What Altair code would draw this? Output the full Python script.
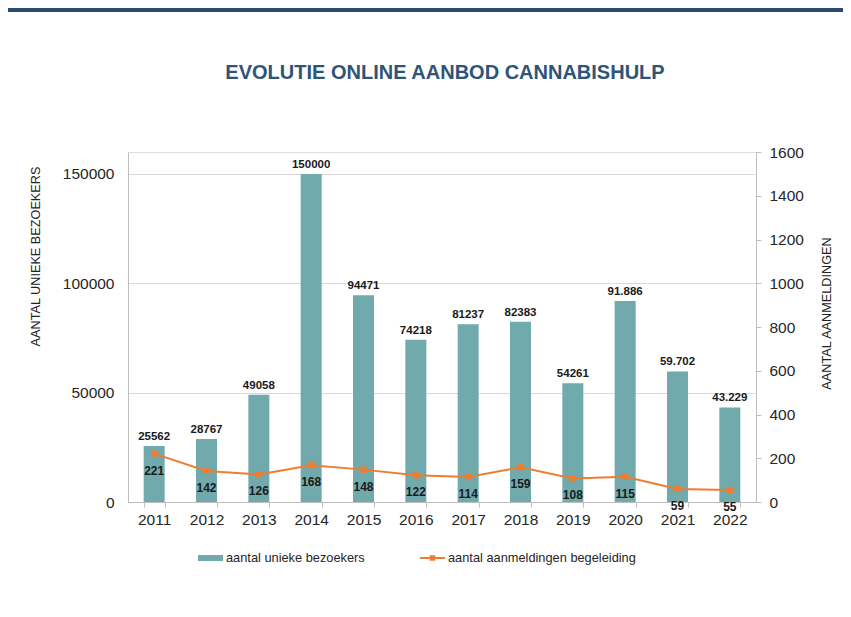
import altair as alt
import pandas as pd

years = ["2011", "2012", "2013", "2014", "2015", "2016", "2017", "2018", "2019", "2020", "2021", "2022"]
visitors = [25562, 28767, 49058, 150000, 94471, 74218, 81237, 82383, 54261, 91886, 59702, 43229]
visitor_labels = ["25562", "28767", "49058", "150000", "94471", "74218", "81237", "82383", "54261",
                  "91.886", "59.702", "43.229"]
registrations = [221, 142, 126, 168, 148, 122, 114, 159, 108, 115, 59, 55]

title_text = "EVOLUTIE ONLINE AANBOD CANNABISHULP"
left_title = "AANTAL  UNIEKE BEZOEKERS"
right_title = "AANTAL  AANMELDINGEN"
legend_bar = "aantal unieke bezoekers"
legend_line = "aantal aanmeldingen begeleiding"

BAR = "#70AAAD"
LINE = "#ED7D31"
FONT = "Liberation Sans"
W, H = 628, 350

df = pd.DataFrame({"year": years, "visitors": visitors, "vlabel": visitor_labels,
                   "reg": registrations})

x = alt.X("year:N", sort=years, title=None,
          scale=alt.Scale(paddingInner=0.6, paddingOuter=0.3),
          axis=alt.Axis(labelAngle=0, labelFontSize=15.5, labelColor="#262626", labelFont=FONT,
                        tickBand="extent", tickSize=5, tickColor="#BFBFBF",
                        domainColor="#BFBFBF", labelPadding=5))

yl_scale = alt.Scale(domain=[0, 160000], nice=False)
yr_scale = alt.Scale(domain=[0, 1600], nice=False)

bars = alt.Chart(df).mark_bar(color=BAR, size=21).encode(
    x=x,
    y=alt.Y("visitors:Q", scale=yl_scale, title=left_title,
            axis=alt.Axis(orient="left", values=[0, 50000, 100000, 150000], format="d",
                          labelFontSize=15.5, labelColor="#262626", labelFont=FONT,
                          tickSize=0, labelPadding=14, grid=True, gridColor="#D9D9D9",
                          domainColor="#BFBFBF", titleFont=FONT, titleFontSize=12.7,
                          titleFontWeight="normal", titleColor="#222222",
                          titleAngle=270, titleX=-86, titleY=104))
)
bar_text = alt.Chart(df).mark_text(fontWeight="bold", fontSize=11.5, font=FONT, dy=-9,
                                   color="#1a1a1a").encode(
    x=x, y=alt.Y("visitors:Q", scale=yl_scale), text="vlabel:N")

line = alt.Chart(df).mark_line(color=LINE, strokeWidth=2).encode(
    x=x,
    y=alt.Y("reg:Q", scale=yr_scale, title=right_title,
            axis=alt.Axis(orient="right", values=list(range(0, 1601, 200)), format="d",
                          labelFontSize=15.5, labelColor="#262626", labelFont=FONT,
                          tickSize=5, tickColor="#BFBFBF", labelPadding=8, grid=False,
                          domainColor="#BFBFBF", titleFont=FONT, titleFontSize=12.7,
                          titleFontWeight="normal", titleColor="#222222",
                          titleAngle=270, titleX=77, titleY=161))
)
points = alt.Chart(df).mark_point(shape="square", filled=True, color=LINE, size=40,
                                  opacity=1).encode(
    x=x, y=alt.Y("reg:Q", scale=yr_scale))
line_text = alt.Chart(df).mark_text(fontWeight="bold", fontSize=12, font=FONT, dy=17,
                                    color="#1a1a1a").encode(
    x=x, y=alt.Y("reg:Q", scale=yr_scale), text="reg:Q")

leg = pd.DataFrame({"a": [legend_bar], "b": [legend_line], "t": [title_text]})
leg_bar = alt.Chart(leg).mark_rect(color=BAR).encode(
    x=alt.value(70), x2=alt.value(95), y=alt.value(403), y2=alt.value(409))
leg_bar_t = alt.Chart(leg).mark_text(align="left", baseline="middle", fontSize=12.8, font=FONT,
                                     color="#262626").encode(
    x=alt.value(98), y=alt.value(406), text="a:N")
leg_line = alt.Chart(leg).mark_rule(color=LINE, strokeWidth=2).encode(
    x=alt.value(292), x2=alt.value(317), y=alt.value(406))
leg_pt = alt.Chart(leg).mark_point(shape="square", filled=True, color=LINE, size=30,
                                   opacity=1).encode(x=alt.value(304.5), y=alt.value(406))
leg_line_t = alt.Chart(leg).mark_text(align="left", baseline="middle", fontSize=12.8, font=FONT,
                                      color="#262626").encode(
    x=alt.value(320), y=alt.value(406), text="b:N")

title = alt.Chart(leg).mark_text(align="center", baseline="middle", fontSize=20,
                                 fontWeight="bold", font=FONT, color="#2E5478").encode(
    x=alt.value(317), y=alt.value(-79), text="t:N")

frame = alt.Chart(leg).mark_rect(color="#2A4A6E").encode(
    x=alt.value(-125), x2=alt.value(720), y=alt.value(-150), y2=alt.value(-140))

left = alt.layer(bars, bar_text)
right = alt.layer(line, points, line_text)
legend = alt.layer(leg_bar, leg_bar_t, leg_line, leg_pt, leg_line_t, title, frame)

chart = alt.layer(left, right, legend).resolve_scale(y="independent").properties(
    width=W, height=H,
    autosize=alt.AutoSizeParams(type="none"),
    padding={"left": 120, "top": 144, "right": 87, "bottom": 107},
).configure_view(stroke=None).configure(background="white")

chart.save("out.html", embed_options={"renderer": "svg", "actions": False})
